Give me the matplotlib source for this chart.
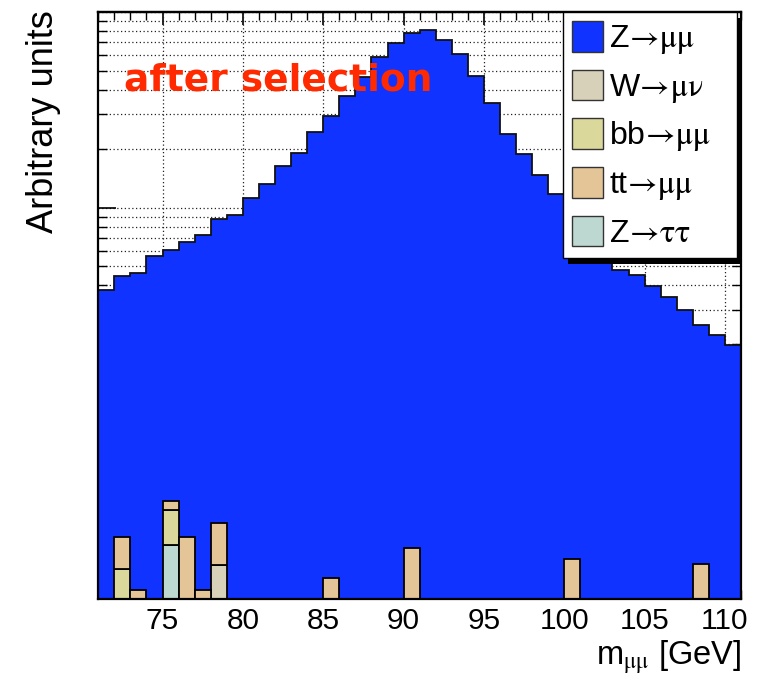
import numpy as np
import matplotlib
matplotlib.use("Agg")
import matplotlib.pyplot as plt
from matplotlib.patches import Patch, Rectangle
from matplotlib.ticker import MultipleLocator, LogLocator, NullFormatter
from matplotlib.transforms import IdentityTransform

plt.rcParams["font.family"] = ["Liberation Sans", "DejaVu Sans"]
plt.rcParams["mathtext.fontset"] = "stix"

# ---------------- data ----------------
bin_edges = np.arange(71, 112, 1)          # 40 bins of 1 GeV, 71-111 GeV

zmumu = [3.80, 4.24, 4.53, 5.64, 5.74, 6.50, 7.17, 8.55, 9.18, 11.25,
         13.2, 16.3, 19.0, 24.5, 29.4, 37.4, 46.7, 59.2, 69.5, 77.6,
         80.7, 72.0, 61.2, 47.1, 34.2, 23.7, 18.8, 14.6, 11.7, 9.40,
         7.51, 6.01, 4.80, 4.53, 3.99, 3.47, 3.00, 2.37, 2.24, 1.99]

ztautau_bins = [75]
ztautau = [0.189]
wmunu_bins = [78]
wmunu = [0.149]
bbmumu_bins = [72, 75]
bbmumu = [0.142, 0.095]
ttmumu_bins = [72, 73, 75, 76, 77, 78, 85, 90, 100, 108]
ttmumu = [0.064, 0.111, 0.030, 0.206, 0.111, 0.095, 0.127, 0.181, 0.159, 0.150]

labels = [r"$\mathregular{Z}\!\rightarrow\!\mathrm{\mu\mu}$",
          r"$\mathregular{W}\!\rightarrow\!\mathrm{\mu\nu}$",
          r"$\mathregular{bb}\!\rightarrow\!\mathrm{\mu\mu}$",
          r"$\mathregular{tt}\!\rightarrow\!\mathrm{\mu\mu}$",
          r"$\mathregular{Z}\!\rightarrow\!\mathrm{\tau\tau}$"]
colors = {"zmumu": "#1033ff", "wmunu": "#d7d1b9", "bbmumu": "#dbd89b",
          "ttmumu": "#e4c598", "ztautau": "#bdd8d0"}

# ---------------- figure ----------------
fig = plt.figure(figsize=(7.63, 6.77), dpi=100)
ax = fig.add_axes([0.1288, 0.1158, 0.8424, 0.8663])
ax.set_yscale("log")
ax.set_xlim(bin_edges[0], bin_edges[-1])
ax.set_ylim(0.1, 100)

nb = len(bin_edges) - 1
def full(bins, vals):
    arr = np.zeros(nb)
    for b, v in zip(bins, vals):
        arr[b - bin_edges[0]] = v
    return arr

layers = [("ztautau", full(ztautau_bins, ztautau)),
          ("wmunu", full(wmunu_bins, wmunu)),
          ("bbmumu", full(bbmumu_bins, bbmumu)),
          ("ttmumu", full(ttmumu_bins, ttmumu))]
bkg_total = sum(l[1] for l in layers)
z_total = np.asarray(zmumu) + bkg_total

ax.stairs(z_total, bin_edges, fill=True, color=colors["zmumu"], zorder=2, lw=0)
ax.stairs(z_total, bin_edges, baseline=None, color="#111111", lw=1.3, zorder=2.1)

cum = np.zeros(nb)
lefts = bin_edges[:-1]
for name, vals in layers:
    m = vals > 0
    ax.bar(lefts[m], vals[m], width=1.0, bottom=cum[m], align="edge",
           color=colors[name], edgecolor="black", lw=1.3, zorder=3)
    cum = cum + vals

# grid
ax.set_axisbelow(True)
ax.grid(which="major", axis="x", ls=(0, (1, 2)), color="#222222", lw=0.9)
ax.grid(which="both", axis="y", ls=(0, (1, 2)), color="#222222", lw=0.9)

# ticks
ax.set_xticks(np.arange(75, 111, 5))
ax.xaxis.set_minor_locator(MultipleLocator(1))
ax.yaxis.set_major_locator(LogLocator(base=10))
ax.yaxis.set_minor_locator(LogLocator(base=10, subs=np.arange(2, 10)))
ax.yaxis.set_major_formatter(NullFormatter())
ax.yaxis.set_minor_formatter(NullFormatter())
ax.tick_params(which="both", direction="in", top=False, right=True,
               labelsize=21.5, pad=6, color="black")
ax.tick_params(which="major", length=13, width=1.2)
ax.tick_params(which="minor", length=6.5, width=1.0)

# shorter ticks along the top edge
top = ax.secondary_xaxis("top")
top.set_xticks(np.arange(75, 111, 5))
top.xaxis.set_minor_locator(MultipleLocator(1))
top.tick_params(which="both", direction="in", labeltop=False)
top.tick_params(which="major", length=9, width=1.2)
top.tick_params(which="minor", length=5.5, width=1.0)
top.spines["top"].set_linewidth(1.6)

for s in ax.spines.values():
    s.set_linewidth(1.6)
    s.set_zorder(4)

# labels
ax.set_xlabel(r"m$_{\mathrm{\mu\mu}}$ [GeV]", fontsize=23.5, loc="right")
ax.xaxis.set_label_coords(1.0, -0.113)
ax.xaxis.label.set_va("baseline")
ax.text(-0.0845, 1.003, "Arbitrary units", rotation=90, ha="center", va="top",
        fontsize=26, transform=ax.transAxes)

ax.text(0.040, 0.867, "after selection", color="#ff2a00", fontsize=27,
        fontweight="bold", family="DejaVu Sans", va="baseline",
        transform=ax.transAxes, zorder=6)

# legend
handles = [Patch(facecolor=colors[k], edgecolor="#333333", lw=1.0)
           for k in ["zmumu", "wmunu", "bbmumu", "ttmumu", "ztautau"]]
leg = ax.legend(handles, labels, loc="upper left",
                bbox_to_anchor=(0.723, 1.0, 0.2707, 0.0), mode="expand",
                borderaxespad=0, fontsize=23, frameon=True, fancybox=False,
                framealpha=1, edgecolor="black", handlelength=0.97,
                handleheight=1.1, handletextpad=0.2, labelspacing=0.42,
                borderpad=0.28)
leg.get_frame().set_linewidth(1.0)
leg.set_zorder(7)

fig.canvas.draw()
bb = leg.get_window_extent()
shadow = Rectangle((bb.x0 + 5, bb.y0 - 6), bb.width, bb.height,
                   transform=IdentityTransform(), facecolor="black",
                   edgecolor="none", zorder=6.5, clip_on=False)
ax.add_artist(shadow)

fig.savefig("out.png", dpi=100)
